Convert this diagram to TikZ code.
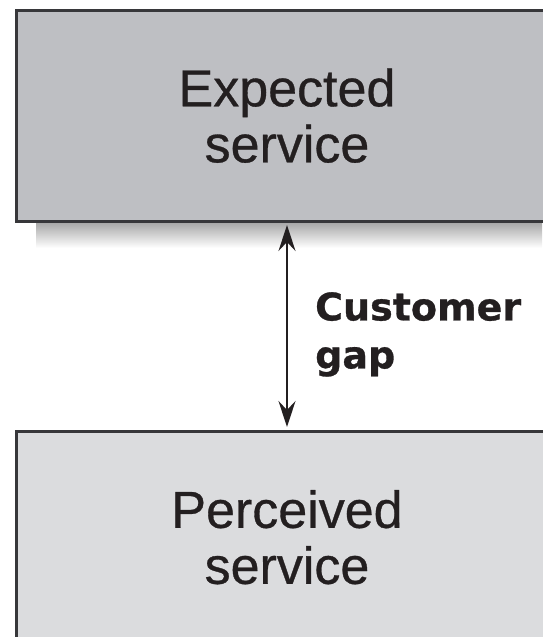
\documentclass[tikz,border=0pt]{standalone}
\usepackage{fontspec}
\setmainfont{Liberation Sans}
\newfontfamily\boxfont[FakeBold=0.6]{Liberation Sans}
\newfontfamily\gapfont[FakeBold=0.8]{DejaVu Sans Bold}
\usetikzlibrary{arrows.meta,positioning}
\definecolor{expgray}{RGB}{190,191,195}
\definecolor{pergray}{RGB}{219,220,222}
\definecolor{edgegray}{RGB}{55,55,58}
\definecolor{ink}{RGB}{35,31,32}

\begin{document}
\begin{tikzpicture}[x=1pt, y=-1pt,
    servicebox/.style={draw=edgegray, line width=3pt, minimum width=541pt, minimum height=211.5pt,
      inner sep=0pt, align=center, text=ink, font=\boxfont\fontsize{52}{56}\selectfont},
    gaptext/.style={text=ink, align=left, inner sep=0pt, font=\gapfont\fontsize{38}{48}\selectfont}]
  \useasboundingbox (0,0) rectangle (542,637);

  % soft shadow under the upper box
  \shade[top color=black!35, bottom color=white] (36,222) rectangle (542,248);

  \node[servicebox, fill=expgray] (expected) at (287,115.75) {Expected\\service};
  \node[servicebox, fill=pergray] (perceived) at (287,537.25) {Perceived\\service};

  \draw[{Stealth[length=26pt, width=17pt, inset=9pt]}-{Stealth[length=26pt, width=17pt, inset=9pt]},
    line width=2pt, color=ink, shorten <=2pt, shorten >=3pt] (expected) -- (perceived);
  \node[gaptext, anchor=north west] (gap) at (315,292) {Customer\\gap};
\end{tikzpicture}
\end{document}
